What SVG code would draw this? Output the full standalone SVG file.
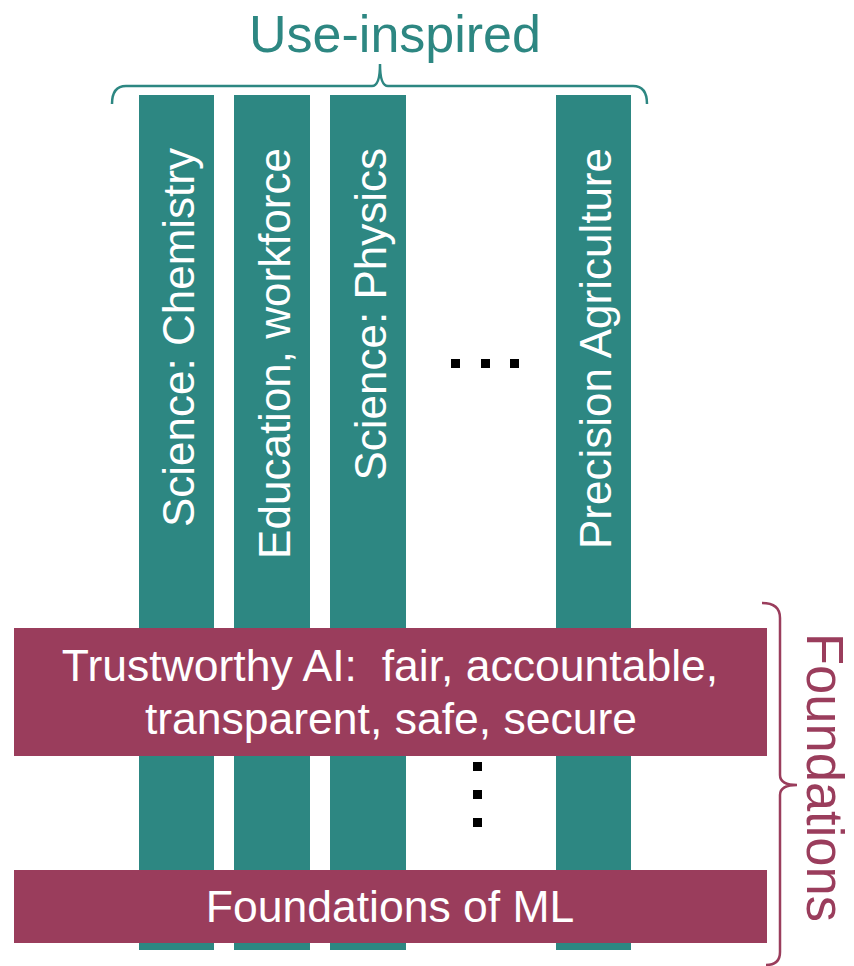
<svg xmlns="http://www.w3.org/2000/svg" width="854" height="966" viewBox="0 0 854 966">
<style>
.bar{fill:#2d8782}
.band{fill:#9a3d5c}
.vt{font-family:"Liberation Sans",Arial,sans-serif;font-size:44px;fill:#ffffff;text-anchor:end}
.bt{font-family:"Liberation Sans",Arial,sans-serif;font-size:44.5px;fill:#ffffff;text-anchor:middle;white-space:pre}
.dot{fill:#000000}
</style>
<rect width="854" height="966" fill="#ffffff"/>
<g id="bar-chemistry"><rect class="bar" x="139" y="95" width="75" height="855"/><text class="vt" transform="translate(194,148) rotate(-90)">Science: Chemistry</text></g>
<g id="bar-education"><rect class="bar" x="234" y="95" width="76" height="855"/><text class="vt" transform="translate(290,148) rotate(-90)">Education, workforce</text></g>
<g id="bar-physics"><rect class="bar" x="330" y="95" width="76" height="855"/><text class="vt" transform="translate(386,148) rotate(-90)">Science: Physics</text></g>
<g id="bar-agriculture"><rect class="bar" x="556" y="95" width="75" height="855"/><text class="vt" transform="translate(611,148) rotate(-90)">Precision Agriculture</text></g>
<g id="hdots"><rect class="dot" x="451" y="359" width="9" height="9"/><rect class="dot" x="481" y="359" width="9" height="9"/><rect class="dot" x="510" y="359" width="9" height="9"/></g>
<g id="trustworthy"><rect class="band" x="14" y="628" width="753" height="128"/><text class="bt" x="390" y="681" xml:space="preserve">Trustworthy AI:  fair, accountable,</text><text class="bt" x="391" y="734">transparent, safe, secure</text></g>
<g id="vdots"><rect class="dot" x="473" y="762" width="9" height="9"/><rect class="dot" x="473" y="790" width="9" height="9"/><rect class="dot" x="473" y="818" width="9" height="9"/></g>
<g id="foundations-ml"><rect class="band" x="14" y="870" width="753" height="73"/><text class="bt" x="390" y="922">Foundations of ML</text></g>
<g id="connectors">
<path d="M112,104 Q112,86 126,86 L372,86 Q380,86 380,64 Q380,86 388,86 L633,86 Q647,86 647,104" fill="none" stroke="#2d8782" stroke-width="2.5"/>
<path d="M762,603 Q780,603 780,618 L780,775 Q780,785 797,785 Q780,785 780,795 L780,952 Q780,965 766,965" fill="none" stroke="#9a3d5c" stroke-width="2.5"/>
</g>
<g id="label-use"><text x="395" y="52" font-family="'Liberation Sans',Arial,sans-serif" font-size="52" fill="#2d8782" text-anchor="middle">Use-inspired</text></g>
<g id="label-foundations"><text transform="translate(807,633) rotate(90)" font-family="'Liberation Sans',Arial,sans-serif" font-size="51" fill="#9a3d5c" textLength="289" lengthAdjust="spacingAndGlyphs">Foundations</text></g>
</svg>
